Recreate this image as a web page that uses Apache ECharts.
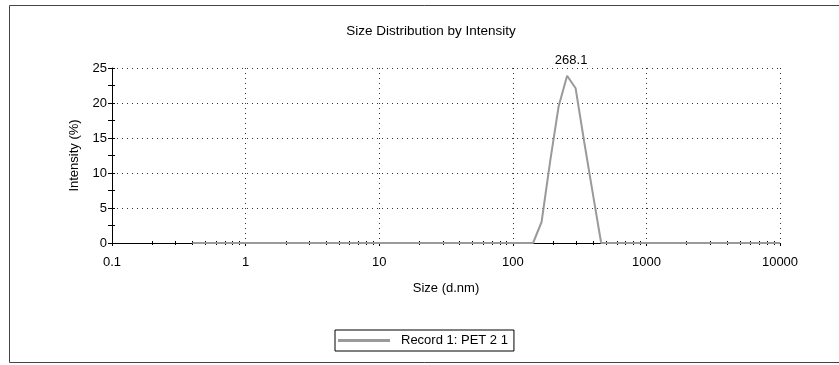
<!DOCTYPE html>
<html>
<head>
<meta charset="utf-8">
<script src="https://cdn.jsdelivr.net/npm/echarts@6/dist/echarts.min.js"></script>
<style>
html,body{margin:0;padding:0;background:#fff;}
#c{width:839px;height:365px;}
</style>
</head>
<body>
<div id="c"></div>
<script>
// ---- data ----
const titleText = 'Size Distribution by Intensity';
const seriesName = 'Record 1: PET 2 1';
const sizes = [0.4, 141.8, 164.2, 190.1, 220.2, 255.0, 295.3, 342.0, 396.1, 458.7, 10000];
const intensity = [0, 0, 3.0, 11.6, 19.5, 23.9, 22.1, 14.5, 7.2, 0, 0];
const peakIndex = 5;
const peakLabel = '268.1';
const xMinorTicks = [0.2,0.3,0.4,0.5,0.6,0.7,0.8,0.9, 2,3,4,5,6,7,8,9, 20,30,40,50,60,70,80,90,
  200,300,400,500,600,700,800,900, 2000,3000,4000,5000,6000,7000,8000,9000];
const xLabels = [0.1, 1, 10, 100, 1000, 10000];

const font = 'Liberation Sans, Arial, sans-serif';
const data = sizes.map((s, i) => i === peakIndex
  ? {value: [s, intensity[i]], label: {show: true, formatter: peakLabel, position: 'top', distance: 9, offset: [4, 0], color: '#000', fontSize: 13, fontFamily: font}}
  : [s, intensity[i]]);

const chart = echarts.init(document.getElementById('c'), null, {renderer: 'canvas'});
const dotted = {color: '#333', width: 1, type: [1, 4]};
const minorAxis = (inside) => ({
  type: 'log', logBase: 10, min: 0.1, max: 10000, position: 'bottom',
  axisLine: {show: false}, axisLabel: {show: false}, splitLine: {show: false},
  axisTick: {show: true, inside: inside, length: 2, lineStyle: {color: '#000'}, customValues: xMinorTicks}
});
chart.setOption({
  animation: false,
  backgroundColor: '#fff',
  textStyle: {fontFamily: font, color: '#000'},
  title: {text: titleText, left: 426, textAlign: 'center', top: 19,
    textStyle: {fontSize: 13.5, fontWeight: 'normal', color: '#000', fontFamily: font}},
  grid: {left: 112, right: 59, top: 68, bottom: 122},
  legend: {
    data: [seriesName], left: 335, top: 330, orient: 'horizontal',
    borderColor: '#000', borderWidth: 1, padding: [4, 6, 4, 3],
    itemWidth: 52, itemHeight: 3, itemGap: 10, icon: 'rect',
    textStyle: {fontSize: 13, color: '#000', fontFamily: font, padding: [0, 0, 0, 6]}
  },
  xAxis: [{
    type: 'log', logBase: 10, min: 0.1, max: 10000,
    name: 'Size (d.nm)', nameLocation: 'middle', nameGap: 39,
    nameTextStyle: {fontSize: 13, color: '#000', fontFamily: font},
    axisLine: {show: true, onZero: false, lineStyle: {color: '#000', width: 1}},
    axisTick: {show: true, length: 3, lineStyle: {color: '#000'}},
    axisLabel: {margin: 13, fontSize: 13, color: '#000', fontFamily: font,
      formatter: v => String(v)},
    splitLine: {show: true, lineStyle: dotted},
    minorTick: {show: false}, minorSplitLine: {show: false}
  }, minorAxis(true), minorAxis(false)],
  yAxis: [{
    type: 'value', min: 0, max: 25, interval: 5,
    name: 'Intensity (%)', nameLocation: 'middle', nameGap: 31, nameRotate: 90,
    nameTextStyle: {fontSize: 13, color: '#000', fontFamily: font},
    axisLine: {show: true, lineStyle: {color: '#000', width: 1}},
    axisTick: {show: true, length: 4, lineStyle: {color: '#000'}},
    minorTick: {show: true, splitNumber: 2, length: 4, lineStyle: {color: '#000'}},
    axisLabel: {margin: 5, fontSize: 13, color: '#000', fontFamily: font},
    splitLine: {show: true, lineStyle: dotted}
  }, {
    type: 'value', min: 0, max: 25, interval: 5, position: 'left',
    axisLine: {show: false}, axisLabel: {show: false}, splitLine: {show: false},
    axisTick: {show: true, inside: true, length: 3, lineStyle: {color: '#000'}},
    minorTick: {show: true, splitNumber: 2, length: 3, lineStyle: {color: '#000'}}
  }],
  graphic: [{
    type: 'rect', silent: true, z: -1,
    shape: {x: 9.5, y: 5.5, width: 835, height: 357},
    style: {fill: null, stroke: '#444', lineWidth: 1}
  }],
  series: [{
    name: seriesName, type: 'line', data: data,
    showSymbol: true, symbol: 'circle', symbolSize: 0,
    lineStyle: {color: '#9a9a9a', width: 2},
    itemStyle: {color: '#9a9a9a'},
    z: 5
  }]
});
</script>
</body>
</html>
